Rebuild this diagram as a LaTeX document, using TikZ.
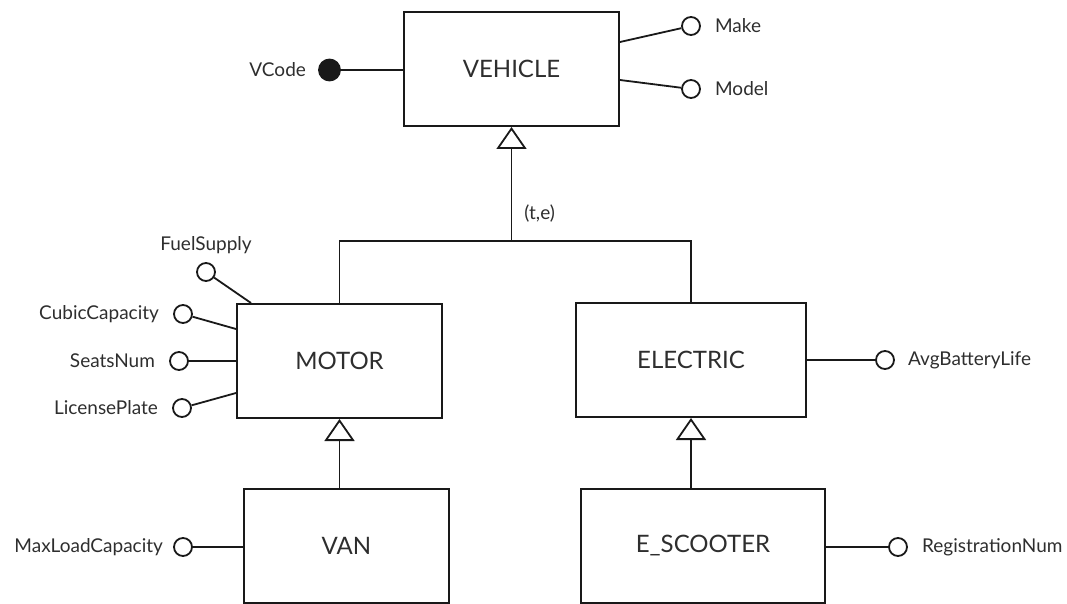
\documentclass[tikz,border=0pt]{standalone}
\usepackage{fontspec}
\setmainfont{Lato}
\usetikzlibrary{arrows.meta,positioning}

\begin{document}
\begin{tikzpicture}[
    x=1pt, y=-1pt,
    node distance=14pt,
    every node/.style={font=\fontsize{19}{23}\selectfont, inner sep=0pt, text=black!82},
    entity/.style={draw=black!90, line width=2pt, font=\fontsize{24}{29}\selectfont, minimum height=114pt},
    attr/.style={draw=black!90, circle, line width=1.8pt, minimum size=18pt},
    keyattr/.style={attr, fill=black!90, minimum size=21pt},
    link/.style={draw=black!90, line width=1.8pt},
    isa/.style={link, -{Triangle[open, width=30pt, length=22pt]}}
]
\useasboundingbox (0,0) rectangle (1067,604);
% entities
\node[entity, minimum width=215pt] (vehicle) at (511.5,69) {VEHICLE};
\node[entity, minimum width=205pt] (motor) at (339.5,361) {MOTOR};
\node[entity, minimum width=230pt] (electric) at (691,360) {ELECTRIC};
\node[entity, minimum width=205pt] (van) at (346.5,546) {VAN};
\node[entity, minimum width=244pt] (escooter) at (703,546) {E\_SCOOTER};
% attributes
\node[keyattr] (vcode) at (329.5,70) {};
\node[left=12pt of vcode] (vcodeL) {VCode};
\node[attr] (make) at (691,26) {};
\node[right=of make] (makeL) {Make};
\node[attr] (model) at (691,89) {};
\node[right=of model] (modelL) {Model};
\node[attr] (fuel) at (206,272) {};
\node[above=8pt of fuel] (fuelL) {FuelSupply};
\node[attr] (cubic) at (183,314) {};
\node[left=of cubic] (cubicL) {CubicCapacity};
\node[attr] (seats) at (179,361) {};
\node[left=of seats] (seatsL) {SeatsNum};
\node[attr] (plate) at (182,408) {};
\node[left=of plate] (plateL) {LicensePlate};
\node[attr] (battery) at (885,360) {};
\node[right=13pt of battery] (batteryL) {AvgBatteryLife};
\node[attr] (maxload) at (183,547) {};
\node[left=10pt of maxload] (maxloadL) {MaxLoadCapacity};
\node[attr] (regnum) at (898,547) {};
\node[right=of regnum] (regnumL) {RegistrationNum};
% attribute links
\draw[link] (vcode) -- (vcode -| vehicle.west);
\draw[link] (make) -- ([yshift=27pt]vehicle.east);
\draw[link] (model) -- ([yshift=-11pt]vehicle.east);
\draw[link] (fuel) -- ([xshift=15pt]motor.north west);
\draw[link] (cubic) -- ([yshift=32pt]motor.west);
\draw[link] (seats) -- (motor.west);
\draw[link] (plate) -- ([yshift=-32pt]motor.west);
\draw[link] (battery) -- (electric.east);
\draw[link] (maxload) -- (maxload -| van.west);
\draw[link] (regnum) -- (regnum -| escooter.east);
% specialisation
\coordinate (split) at (511.5,241);
\draw[link] (motor.north) |- (split) -| (electric.north);
\draw[isa] (split) -- node[pos=0.24, right=12pt] (te) {(t,e)} (vehicle.south);
\draw[isa] (van.north -| motor.south) -- (motor.south);
\draw[isa] (escooter.north -| electric.south) -- (electric.south);
\end{tikzpicture}
\end{document}
